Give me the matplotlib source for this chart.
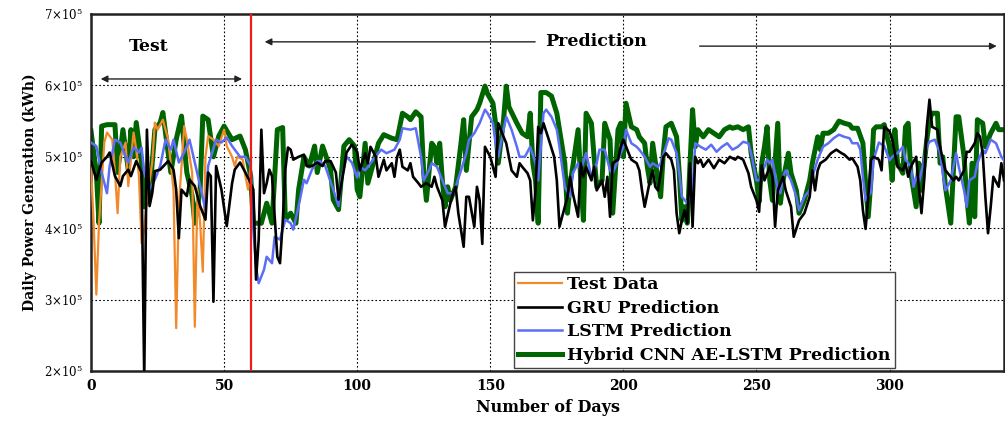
import matplotlib
matplotlib.use("Agg")
import matplotlib.pyplot as plt
from matplotlib.ticker import FixedLocator, FuncFormatter

# Daily generation, in units of 1e5 kWh, as (day, value) pairs
test_points = [
    (0, 4.87), (1, 4.07), (2, 3.07), (3, 4.07), (5, 5.2), (6, 5.34), (8, 5.24), (9, 4.78),
    (10, 4.21), (11, 5.0), (13, 5.2), (14, 4.59), (16, 5.34), (17, 5.1), (18, 4.73), (19, 3.79),
    (20, 3.98), (21, 4.4), (23, 4.92), (24, 5.48), (25, 5.38), (27, 5.52), (29, 5.24), (31, 4.54),
    (32, 2.6), (33, 4.31), (35, 5.43), (36, 5.24), (38, 4.78), (39, 2.62), (40, 4.54), (41, 4.07),
    (42, 3.39), (43, 5.0), (44, 5.29), (46, 5.24), (48, 5.15), (50, 5.38), (51, 5.15), (53, 5.0),
    (54, 4.87), (55, 5.0), (57, 4.96), (58, 4.73), (59, 4.54), (60, 4.87),
]

gru_points = [
    (0, 4.94), (2, 4.68), (4, 4.92), (6, 5.0), (7, 5.06), (9, 4.73), (11, 4.59), (12, 4.73),
    (14, 4.82), (15, 4.73), (17, 4.94), (19, 4.78), (20, 1.9), (21, 5.38), (22, 4.31), (23, 4.49),
    (24, 4.8), (26, 4.82), (29, 4.94), (31, 4.82), (32, 4.54), (33, 3.86), (34, 4.54), (36, 4.45),
    (37, 4.68), (39, 4.59), (41, 4.31), (43, 4.12), (44, 4.78), (45, 4.73), (46, 2.97), (47, 4.87),
    (49, 4.54), (51, 4.03), (53, 4.63), (54, 4.82), (56, 4.92), (58, 4.78), (60, 4.63), (61, 4.54),
    (62, 3.28), (63, 3.84), (64, 5.38), (65, 4.49), (66, 4.63), (67, 4.82), (68, 4.73), (70, 3.6),
    (71, 3.51), (72, 4.07), (73, 4.82), (74, 5.13), (75, 5.1), (76, 4.96), (78, 5.0), (80, 5.03),
    (81, 4.87), (83, 4.87), (85, 4.92), (87, 4.87), (88, 4.94), (90, 4.94), (92, 4.78), (93, 4.4),
    (95, 4.82), (96, 5.06), (98, 5.17), (100, 5.07), (101, 4.81), (103, 5.05), (104, 4.91),
    (105, 5.14), (107, 5.0), (108, 4.72), (110, 4.96), (111, 4.81), (113, 4.91), (114, 4.72),
    (115, 5.0), (116, 5.1), (117, 4.86), (119, 4.81), (120, 4.91), (121, 4.72), (123, 4.63),
    (124, 4.58), (126, 4.63), (128, 4.58), (129, 4.72), (130, 4.58), (132, 4.39), (133, 4.02),
    (135, 4.35), (136, 4.49), (137, 4.58), (138, 4.21), (140, 3.74), (141, 4.44), (142, 4.44),
    (144, 4.02), (145, 4.58), (146, 4.39), (147, 3.78), (148, 5.14), (150, 5.0), (151, 4.86),
    (152, 4.72), (153, 5.47), (155, 5.28), (156, 5.19), (157, 5.0), (158, 4.81), (160, 4.72),
    (161, 4.91), (162, 4.86), (164, 4.77), (165, 4.67), (166, 4.11), (167, 4.53), (168, 5.42),
    (169, 5.33), (170, 5.47), (172, 5.24), (174, 5.0), (175, 4.67), (176, 4.02), (178, 4.3),
    (179, 4.44), (180, 4.72), (181, 4.49), (183, 4.16), (184, 4.91), (185, 4.72), (186, 4.86),
    (188, 4.67), (189, 4.86), (190, 4.53), (192, 4.67), (193, 4.44), (194, 4.72), (195, 4.16),
    (196, 4.91), (198, 4.96), (199, 5.14), (200, 5.24), (202, 5.05), (203, 4.96), (205, 4.91),
    (206, 4.81), (207, 4.53), (208, 4.3), (210, 4.67), (211, 4.81), (212, 4.58), (213, 4.53),
    (215, 5.0), (216, 5.05), (218, 4.96), (219, 4.81), (220, 4.21), (221, 3.93), (222, 4.11),
    (223, 4.25), (224, 4.07), (225, 4.91), (226, 4.02), (227, 5.0), (228, 4.91), (229, 4.96),
    (230, 4.86), (232, 4.96), (234, 4.84), (236, 4.96), (238, 4.91), (240, 5.0), (242, 4.96),
    (243, 5.0), (245, 4.96), (247, 4.77), (248, 4.58), (250, 4.39), (251, 4.23), (252, 4.88),
    (253, 4.67), (255, 4.86), (256, 4.72), (257, 4.02), (258, 4.53), (260, 4.72), (261, 4.53),
    (263, 4.3), (264, 3.88), (266, 4.11), (267, 4.16), (268, 4.21), (270, 4.44), (271, 4.81),
    (272, 4.53), (273, 4.81), (274, 4.91), (276, 4.96), (278, 5.05), (280, 5.1), (282, 5.05),
    (283, 5.03), (285, 4.96), (286, 4.98), (288, 4.86), (289, 4.67), (290, 4.25), (291, 3.99),
    (292, 4.44), (293, 4.96), (294, 5.0), (296, 4.96), (297, 4.81), (298, 5.42), (300, 5.36),
    (301, 5.24), (302, 5.05), (303, 4.86), (305, 4.81), (306, 4.91), (307, 4.72), (308, 4.86),
    (310, 5.0), (311, 4.58), (312, 4.21), (313, 4.67), (314, 5.42), (315, 5.8), (316, 5.42),
    (318, 5.38), (319, 5.14), (320, 4.96), (321, 4.81), (323, 4.72), (324, 4.67), (325, 4.72),
    (326, 4.67), (328, 4.81), (329, 5.07), (330, 5.07), (332, 5.19), (333, 5.33), (334, 5.28),
    (335, 5.05), (336, 4.44), (337, 3.93), (338, 4.3), (339, 4.72), (341, 4.58), (342, 4.91),
    (343, 4.67),
]

lstm_points = [
    (0, 5.2), (2, 5.15), (4, 4.78), (6, 4.49), (7, 4.87), (9, 5.24), (11, 5.2), (13, 5.0),
    (14, 4.92), (16, 5.13), (18, 5.06), (19, 5.13), (20, 4.78), (22, 4.54), (24, 4.68), (26, 4.87),
    (28, 5.24), (30, 5.1), (31, 5.24), (33, 4.92), (35, 5.06), (37, 5.24), (39, 4.92), (41, 4.59),
    (43, 4.26), (44, 4.87), (47, 5.24), (49, 5.2), (51, 5.27), (53, 5.15), (56, 5.0), (58, 5.0),
    (60, 4.87), (61, 3.98), (62, 3.46), (63, 3.23), (65, 3.42), (66, 3.6), (68, 3.51), (69, 3.88),
    (71, 3.84), (73, 4.12), (75, 4.07), (76, 3.98), (78, 4.31), (80, 4.68), (81, 4.63), (83, 4.82),
    (85, 4.94), (86, 4.94), (88, 4.87), (91, 4.54), (93, 4.31), (94, 4.68), (96, 5.0), (98, 4.92),
    (100, 4.71), (101, 4.86), (103, 4.81), (105, 4.91), (106, 4.96), (109, 5.1), (111, 5.05),
    (114, 5.1), (116, 5.24), (117, 5.4), (120, 5.38), (122, 5.4), (124, 5.0), (125, 4.67),
    (127, 4.81), (128, 4.91), (130, 4.86), (132, 4.67), (134, 4.49), (136, 4.49), (137, 4.58),
    (139, 4.81), (141, 5.05), (142, 5.24), (144, 5.33), (146, 5.47), (148, 5.66), (149, 5.61),
    (151, 5.47), (152, 5.19), (153, 5.0), (155, 5.38), (156, 5.56), (158, 5.38), (160, 5.14),
    (161, 5.0), (163, 5.0), (165, 5.14), (167, 4.91), (168, 4.67), (170, 5.61), (171, 5.66),
    (173, 5.56), (175, 5.38), (176, 5.14), (178, 4.58), (180, 4.44), (181, 4.77), (183, 4.91),
    (184, 4.81), (186, 5.05), (188, 4.72), (190, 4.91), (191, 5.1), (193, 5.1), (195, 4.81),
    (196, 4.77), (198, 4.96), (200, 5.14), (201, 5.38), (203, 5.19), (205, 5.14), (206, 5.1),
    (208, 5.0), (210, 4.86), (211, 4.91), (213, 4.86), (214, 4.91), (216, 5.14), (217, 5.26),
    (218, 5.24), (220, 5.05), (221, 4.77), (222, 4.44), (224, 4.35), (226, 4.53), (227, 5.19),
    (229, 5.14), (231, 5.1), (233, 5.17), (235, 5.07), (237, 5.14), (239, 5.19), (241, 5.1),
    (243, 5.14), (245, 5.21), (247, 5.19), (248, 5.05), (250, 4.67), (251, 4.67), (253, 4.86),
    (254, 4.96), (255, 4.91), (256, 4.96), (258, 4.53), (259, 4.49), (260, 4.72), (261, 4.81),
    (263, 4.67), (265, 4.44), (266, 4.25), (268, 4.44), (270, 4.53), (271, 4.72), (273, 4.96),
    (275, 5.14), (277, 5.19), (279, 5.26), (281, 5.31), (283, 5.28), (285, 5.26), (286, 5.19),
    (288, 5.19), (289, 5.1), (290, 4.72), (291, 4.39), (293, 4.5), (294, 4.96), (296, 5.2),
    (298, 5.15), (300, 4.95), (301, 5.0), (303, 5.05), (305, 5.14), (306, 4.96), (308, 4.86),
    (309, 4.58), (310, 4.72), (311, 4.63), (313, 4.96), (314, 5.14), (315, 5.21), (317, 5.24),
    (319, 5.05), (320, 4.77), (321, 4.53), (323, 4.67), (325, 5.05), (326, 4.86), (328, 4.53),
    (329, 4.3), (330, 4.67), (332, 4.72), (333, 4.91), (335, 5.1), (336, 5.05), (338, 5.24),
    (340, 5.19), (342, 5.0), (343, 4.95),
]

hybrid_points = [
    (0, 5.36), (2, 4.78), (3, 4.07), (4, 5.43), (6, 5.45), (9, 5.45), (10, 4.78), (12, 5.38),
    (14, 4.82), (15, 5.38), (16, 5.0), (17, 5.48), (19, 4.92), (20, 4.3), (22, 4.45), (24, 5.38),
    (26, 5.48), (27, 5.62), (29, 5.05), (30, 4.78), (32, 5.24), (34, 5.57), (36, 4.78), (38, 4.45),
    (39, 4.07), (41, 4.54), (42, 5.57), (44, 5.52), (46, 5.0), (48, 5.29), (50, 5.43), (53, 5.24),
    (56, 5.29), (58, 5.1), (60, 4.73), (61, 4.07), (63, 4.07), (64, 4.07), (66, 4.35), (68, 4.07),
    (70, 5.38), (72, 5.41), (73, 4.12), (75, 4.21), (77, 4.07), (78, 4.54), (80, 5.0), (82, 4.87),
    (84, 5.15), (85, 4.78), (87, 5.15), (90, 4.82), (91, 4.4), (93, 4.26), (95, 5.15), (97, 5.24),
    (99, 5.15), (100, 4.54), (101, 4.44), (103, 5.19), (104, 4.63), (106, 4.9), (108, 5.19),
    (110, 5.31), (113, 5.26), (115, 5.24), (117, 5.61), (119, 5.56), (120, 5.52), (122, 5.63),
    (124, 5.56), (125, 4.77), (126, 4.39), (128, 5.19), (129, 5.14), (130, 4.91), (131, 5.19),
    (132, 4.67), (133, 4.3), (134, 4.58), (135, 4.39), (137, 4.58), (139, 5.19), (140, 5.52),
    (141, 4.81), (143, 5.56), (145, 5.66), (146, 5.75), (148, 5.99), (149, 5.88), (151, 5.75),
    (152, 5.47), (153, 4.91), (155, 5.52), (156, 5.99), (157, 5.7), (160, 5.47), (162, 5.33),
    (164, 5.28), (165, 5.61), (166, 4.91), (167, 4.67), (168, 4.07), (169, 5.9), (171, 5.9),
    (173, 5.85), (175, 5.61), (176, 5.38), (178, 4.91), (179, 4.21), (180, 4.63), (181, 4.86),
    (183, 5.38), (184, 4.67), (185, 4.11), (186, 5.61), (188, 5.47), (189, 5.0), (190, 4.58),
    (192, 4.67), (193, 5.47), (195, 5.24), (196, 4.21), (198, 5.38), (199, 5.47), (200, 5.0),
    (201, 5.75), (203, 5.42), (205, 5.38), (206, 5.28), (208, 5.19), (209, 4.86), (210, 4.63),
    (211, 5.19), (213, 4.67), (214, 4.44), (215, 5.05), (216, 5.42), (218, 5.47), (220, 5.28),
    (221, 4.77), (222, 4.11), (223, 4.3), (224, 4.07), (226, 5.66), (227, 5.14), (228, 5.38),
    (230, 5.28), (232, 5.38), (234, 5.33), (236, 5.28), (238, 5.38), (240, 5.42), (241, 5.4),
    (243, 5.42), (245, 5.38), (247, 5.42), (248, 5.05), (250, 4.67), (251, 4.37), (252, 4.91),
    (253, 5.14), (254, 5.42), (255, 4.67), (256, 4.39), (258, 5.47), (259, 4.35), (260, 4.67),
    (262, 5.05), (263, 4.77), (265, 4.53), (266, 4.21), (268, 4.39), (270, 4.67), (271, 4.91),
    (273, 5.28), (274, 5.1), (275, 5.33), (277, 5.33), (279, 5.38), (281, 5.5), (283, 5.47),
    (285, 5.45), (286, 5.4), (288, 5.4), (290, 5.19), (291, 4.63), (292, 4.16), (293, 4.67),
    (294, 5.38), (295, 5.42), (297, 5.42), (298, 5.45), (300, 5.14), (301, 4.67), (302, 5.38),
    (303, 4.91), (305, 4.77), (306, 5.42), (307, 5.47), (308, 4.77), (310, 4.3), (311, 4.91),
    (312, 4.53), (314, 5.24), (315, 5.52), (316, 5.61), (318, 5.61), (319, 4.91), (320, 5.0),
    (321, 4.58), (323, 4.07), (324, 4.81), (325, 5.56), (326, 5.56), (328, 5.0), (329, 4.44),
    (330, 4.07), (331, 4.91), (332, 4.16), (333, 5.52), (335, 5.47), (336, 5.14), (338, 5.33),
    (340, 5.47), (341, 5.38), (343, 5.38),
]

split_day = 60
x_ticks = [0, 50, 100, 150, 200, 250, 300]
y_ticks = [2e5, 3e5, 4e5, 5e5, 6e5, 7e5]
series_labels = ["Test Data", "GRU Prediction", "LSTM Prediction",
                 "Hybrid CNN AE-LSTM Prediction"]

SCALE = 1e5
serif = ["DejaVu Serif"]
plt.rcParams["mathtext.fontset"] = "dejavuserif"


def unpack(points):
    days = [p[0] for p in points]
    vals = [p[1] * SCALE for p in points]
    return days, vals


fig = plt.figure(figsize=(10.05, 4.23), dpi=100)
ax = fig.add_axes([91 / 1005, 1 - 371 / 423, 913 / 1005, 357 / 423])

styles = [
    (test_points, "#f28a2a", 1.6, 3),
    (gru_points, "#000000", 1.9, 5),
    (lstm_points, "#5b6ef5", 1.8, 4),
    (hybrid_points, "#006400", 3.6, 2),
]
handles = []
for (pts, color, lw, z), label in zip(styles, series_labels):
    d, v = unpack(pts)
    h, = ax.plot(d, v, color=color, lw=lw, zorder=z, label=label,
                 solid_joinstyle="round")
    handles.append(h)

ax.axvline(split_day, color="#ee1c1c", lw=1.6, zorder=6)

ax.set_xlim(0, 343)
ax.set_ylim(2e5, 7e5)
ax.xaxis.set_major_locator(FixedLocator(x_ticks))
ax.yaxis.set_major_locator(FixedLocator(y_ticks))
ax.yaxis.set_major_formatter(FuncFormatter(
    lambda v, _: r"$%d{\times}10^{5}$" % round(v / SCALE)))
ax.tick_params(length=0, pad=6)
for lab in ax.get_xticklabels():
    lab.set_fontfamily(serif)
    lab.set_fontweight("bold")
    lab.set_fontsize(10)
for lab in ax.get_yticklabels():
    lab.set_fontsize(8.5)

ax.grid(True, color="black", ls=(0, (1.5, 2)), lw=0.8)
for s in ax.spines.values():
    s.set_linewidth(1.8)
    s.set_color("#222222")

ax.set_xlabel("Number of Days", family=serif, weight="bold", fontsize=11.5, labelpad=4)
ax.set_ylabel("Daily Power Generation (kWh)", family=serif, weight="bold", fontsize=10,
              labelpad=5)

# Region annotations
ax.text(21.8, 6.54e5, "Test", family=serif, weight="bold", fontsize=12.5,
        ha="center", va="center")
ax.annotate("", xy=(2.6, 6.09e5), xytext=(57.8, 6.09e5),
            arrowprops=dict(arrowstyle="<|-|>", color="#222222", lw=1.0, mutation_scale=10))
ax.text(189.6, 6.61e5, "Prediction", family=serif, weight="bold", fontsize=12.5,
        ha="center", va="center")
ax.annotate("", xy=(64.2, 6.61e5), xytext=(167.9, 6.61e5),
            arrowprops=dict(arrowstyle="-|>", color="#222222", lw=1.0, mutation_scale=10))
ax.annotate("", xy=(341.3, 6.55e5), xytext=(227.6, 6.55e5),
            arrowprops=dict(arrowstyle="-|>", color="#222222", lw=1.0, mutation_scale=10))

leg = ax.legend(handles=handles, loc="lower left",
                bbox_to_anchor=((514 - 91) / 913, 0.008),
                prop=dict(family=serif, weight="bold", size=12.5),
                frameon=True, fancybox=False, framealpha=1, edgecolor="#444444",
                handlelength=2.5, handletextpad=0.3, borderpad=0.25,
                labelspacing=0.38, borderaxespad=0)
leg.get_frame().set_linewidth(1.0)
leg.set_zorder(10)

fig.savefig("out.png", dpi=100)
